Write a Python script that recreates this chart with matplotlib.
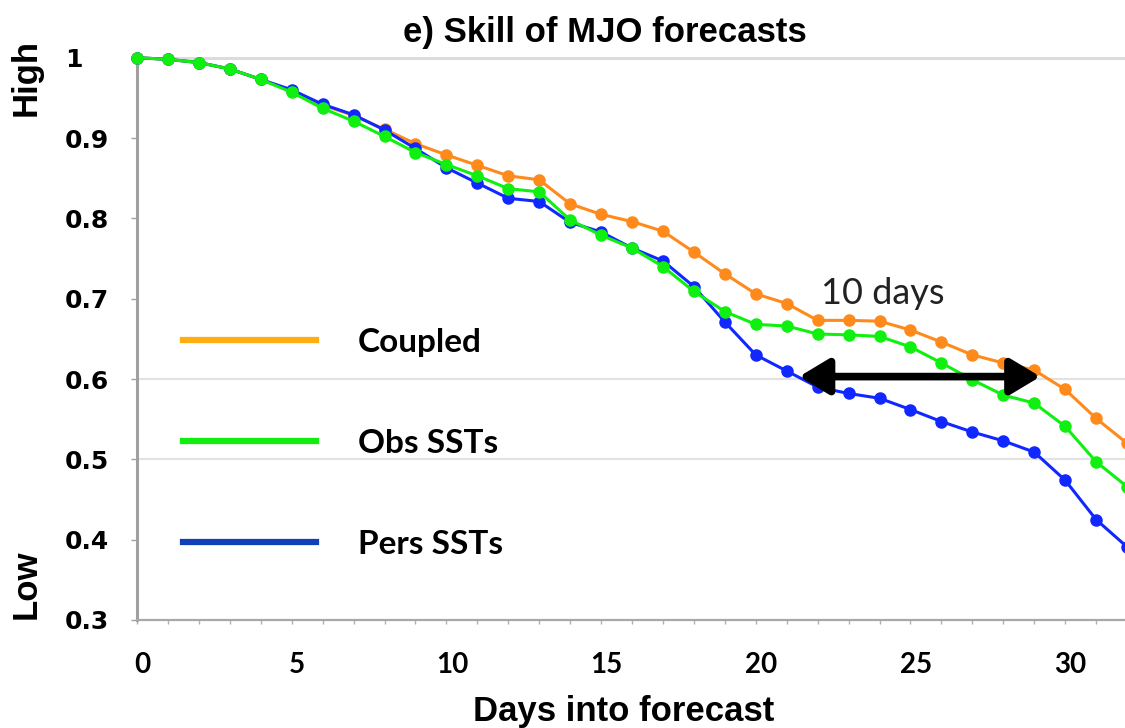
import matplotlib
matplotlib.use("Agg")
import matplotlib.pyplot as plt
import matplotlib.transforms as mtransforms
from matplotlib.lines import Line2D
from matplotlib.ticker import MultipleLocator

# Forecast lead time (days)
days = list(range(33))

# Skill of MJO forecasts
coupled = [1.0, 0.998, 0.994, 0.986, 0.973, 0.958, 0.941, 0.928, 0.911, 0.893,
           0.879, 0.866, 0.853, 0.848, 0.818, 0.805, 0.796, 0.784, 0.758, 0.731,
           0.706, 0.694, 0.673, 0.673, 0.672, 0.661, 0.646, 0.630, 0.620, 0.611,
           0.587, 0.551, 0.520]
obs_ssts = [1.0, 0.998, 0.994, 0.986, 0.973, 0.957, 0.937, 0.921, 0.902, 0.882,
            0.867, 0.853, 0.837, 0.833, 0.798, 0.779, 0.763, 0.740, 0.709, 0.684,
            0.668, 0.666, 0.656, 0.655, 0.653, 0.640, 0.620, 0.599, 0.580, 0.570,
            0.541, 0.497, 0.466]
pers_ssts = [1.0, 0.998, 0.994, 0.986, 0.973, 0.960, 0.942, 0.929, 0.910, 0.887,
             0.863, 0.844, 0.825, 0.821, 0.795, 0.783, 0.763, 0.747, 0.715, 0.671,
             0.630, 0.610, 0.590, 0.582, 0.576, 0.562, 0.547, 0.534, 0.523, 0.509,
             0.474, 0.425, 0.391]

labels = ["Coupled", "Obs SSTs", "Pers SSTs"]
yticks = [0.3, 0.4, 0.5, 0.6, 0.7, 0.8, 0.9, 1.0]
ytick_labels = ["0.3", "0.4", "0.5", "0.6", "0.7", "0.8", "0.9", "1"]
xticks = [0, 5, 10, 15, 20, 25, 30]
grid_levels = [0.5, 0.6]

# the "10 days" gain: Pers SSTs reach 0.6 around day 21, Coupled around day 29
arrow_start, arrow_end, arrow_level = 21.4, 29.2, 0.603

fig = plt.figure(figsize=(11.25, 7.28), dpi=100)
ax = fig.add_axes([0.1218, 0.1484, 0.88, 0.7723])

for g in grid_levels:
    ax.axhline(g, color="#e2e2e2", lw=1.5, zorder=0)

ax.plot(days, coupled, color="#ff8a1c", lw=2.2, marker="o", ms=8, clip_on=False, zorder=3)
ax.plot(days, pers_ssts, color="#1028ff", lw=2.2, marker="o", ms=8, clip_on=False, zorder=4)
ax.plot(days, obs_ssts, color="#10f010", lw=2.2, marker="o", ms=8, clip_on=False, zorder=5)

ax.set_xlim(0, 32)
ax.set_ylim(0.3, 1.0)

# spines like the original Excel chart
ax.spines["right"].set_visible(False)
ax.spines["top"].set_color("#dcdcdc")
ax.spines["top"].set_linewidth(2.2)
ax.spines["left"].set_color("#a0a0a0")
ax.spines["left"].set_linewidth(2.2)
ax.spines["bottom"].set_color("#a8a8a8")
ax.spines["bottom"].set_linewidth(1.6)

ax.set_yticks(yticks)
ax.set_yticklabels(ytick_labels)
ax.tick_params(axis="y", direction="out", length=4, width=1, color="#a0a0a0", pad=48,
               labelsize=18)
for lab in ax.get_yticklabels():
    lab.set_horizontalalignment("left")
    lab.set_fontweight("bold")
    lab.set_family("DejaVu Sans")

ax.set_xticks(xticks)
ax.xaxis.set_minor_locator(MultipleLocator(1))
ax.tick_params(axis="x", which="both", direction="out", length=3, width=1, color="#b0b0b0")
ax.tick_params(axis="x", which="major", pad=20, labelsize=20)
# labels sit a few pixels right of their ticks in the original
shift = mtransforms.ScaledTranslation(4 / 72, 0, fig.dpi_scale_trans)
for lab in ax.get_xticklabels():
    lab.set_fontweight("bold")
    lab.set_family("Lato")
    lab.set_transform(lab.get_transform() + shift)

ax.set_title("e) Skill of MJO forecasts", fontsize=25, fontweight="bold",
             family="Liberation Sans", pad=11, x=0.473)
ax.set_xlabel("Days into forecast", fontsize=25, fontweight="bold",
              family="Liberation Sans", labelpad=12)
ax.xaxis.set_label_coords(0.492, -0.133)

fig.text(0.023, 0.893, "High", rotation=90, fontsize=25, fontweight="bold",
         family="Liberation Sans", ha="center", va="center")
fig.text(0.023, 0.198, "Low", rotation=90, fontsize=25, fontweight="bold",
         family="Liberation Sans", ha="center", va="center")

# arrow and label
ax.annotate("", xy=(arrow_end, arrow_level), xytext=(arrow_start, arrow_level),
            arrowprops=dict(arrowstyle="<|-|>,head_length=1.0,head_width=0.6",
                            color="black", lw=5.5, mutation_scale=18,
                            shrinkA=0, shrinkB=0), zorder=6)
ax.text(24.1, 0.706, "10 days", fontsize=26, family="Lato", color="#222222",
        ha="center", va="center")

# legend with its own (slightly different) colours
handles = [Line2D([], [], color=c, lw=4.5) for c in ["#ffad10", "#10ee10", "#1040b8"]]
leg = ax.legend(handles, labels, loc="upper left", bbox_to_anchor=(0.046, 0.519),
                frameon=False, handlelength=4.0, handletextpad=1.25, labelspacing=2.16,
                borderpad=0, borderaxespad=0,
                prop={"family": "Lato", "weight": "bold", "size": 24})

fig.savefig("out.png", dpi=100)
